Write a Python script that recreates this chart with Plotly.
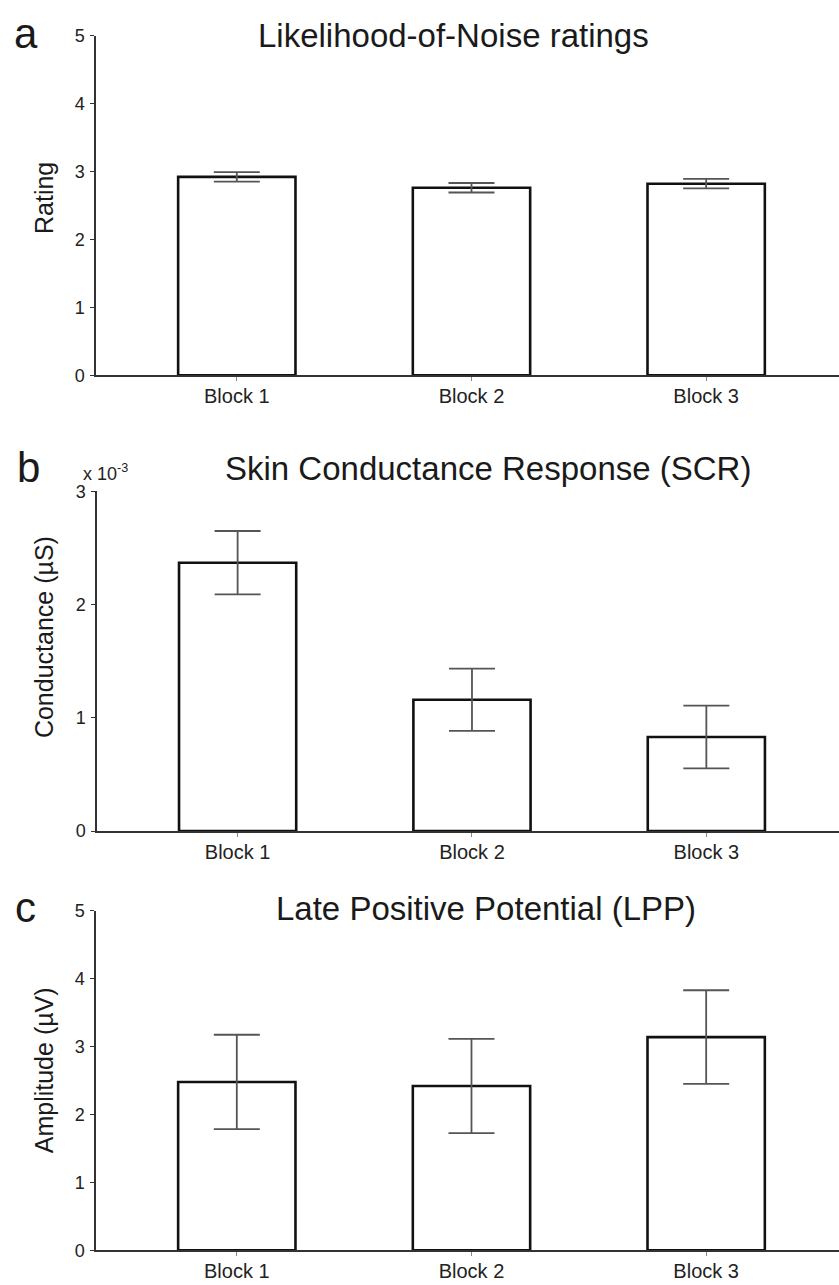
import plotly.graph_objects as go

# ---------------- data ----------------
blocks = ["Block 1", "Block 2", "Block 3"]

rating_mean = [2.92, 2.76, 2.82]
rating_se = [0.07, 0.07, 0.07]

scr_mean = [2.37, 1.16, 0.83]      # in units of 10^-3 µS
scr_se = [0.28, 0.275, 0.277]

lpp_mean = [2.48, 2.42, 3.14]
lpp_se = [0.695, 0.695, 0.69]

panel_titles = ["Likelihood-of-Noise ratings",
                "Skin Conductance Response (SCR)",
                "Late Positive Potential (LPP)"]
panel_letters = ["a", "b", "c"]
y_titles = ["Rating", "Conductance (µS)", "Amplitude (µV)"]
y_ticks = [[0, 1, 2, 3, 4, 5], [0, 1, 2, 3], [0, 1, 2, 3, 4, 5]]
y_ranges = [[0, 5], [0, 3], [0, 5]]

# ---------------- layout helpers ----------------
W, H = 839, 1285
FONT = "Liberation Sans, Arial, Helvetica, sans-serif"


def px(x):
    return x / W


def py(y):
    return 1 - y / H


# pixel geometry of the three panels (axis x, top y, bottom y)
panels = [(96, 26, 371), (97, 489, 834), (96, 915, 1260)]
title_pos = [(453, 26), (488, 466), (486, 913)]
letter_pos = [(26, 24), (28, 465), (25, 912)]
ytitle_pos = [(44, 191), (44, 637), (44, 1077)]

fig = go.Figure()
series = [(rating_mean, rating_se), (scr_mean, scr_se), (lpp_mean, lpp_se)]

for i, (m, se) in enumerate(series):
    sfx = "" if i == 0 else str(i + 1)
    fig.add_trace(go.Bar(
        x=blocks, y=m,
        width=0.5,
        marker=dict(color="white", line=dict(color="#111111", width=2.6)),
        error_y=dict(type="data", array=se, visible=True,
                     color="#555555", thickness=1.8, width=23),
        xaxis="x" + sfx, yaxis="y" + sfx,
        showlegend=False,
    ))

layout = dict(
    width=W, height=H,
    margin=dict(l=0, r=0, t=0, b=0),
    paper_bgcolor="white", plot_bgcolor="white",
    font=dict(family=FONT, color="#222222"),
    bargap=0.5,
)

annotations = []
for i in range(3):
    sfx = "" if i == 0 else str(i + 1)
    ax, top, bot = panels[i]
    layout["xaxis" + sfx] = dict(
        domain=[px(ax), 1],
        anchor="y" + sfx,
        type="category",
        range=[-0.6, 2.566],
        showline=True, linecolor="#333333", linewidth=2,
        ticks="outside", ticklen=4, tickcolor="#888888", tickwidth=1,
        tickfont=dict(size=20, color="#222222", family=FONT),
        ticklabelstandoff=-2,
        showgrid=False, zeroline=False, fixedrange=True,
    )
    layout["yaxis" + sfx] = dict(
        domain=[py(bot), py(top)],
        anchor="x" + sfx,
        range=y_ranges[i],
        tickvals=y_ticks[i],
        ticktext=[str(v) for v in y_ticks[i]],
        showline=True, linecolor="#333333", linewidth=1.5,
        ticks="outside", ticklen=4, tickcolor="#333333", tickwidth=1,
        tickfont=dict(size=18, color="#222222", family=FONT),
        ticklabelstandoff=2,
        showgrid=False, zeroline=False, fixedrange=True,
    )
    tx, ty = title_pos[i]
    annotations.append(dict(text=panel_titles[i], x=px(tx), y=py(ty),
                            xref="paper", yref="paper", showarrow=False,
                            xanchor="center", yanchor="middle",
                            font=dict(size=33, color="#1a1a1a", family=FONT)))
    lx, ly = letter_pos[i]
    annotations.append(dict(text=panel_letters[i], x=px(lx), y=py(ly),
                            xref="paper", yref="paper", showarrow=False,
                            xanchor="center", yanchor="middle",
                            font=dict(size=42, color="#1a1a1a", family=FONT)))
    yx, yy = ytitle_pos[i]
    annotations.append(dict(text=y_titles[i], x=px(yx), y=py(yy),
                            xref="paper", yref="paper", showarrow=False,
                            textangle=-90,
                            xanchor="center", yanchor="middle",
                            font=dict(size=25, color="#1a1a1a", family=FONT)))

annotations.append(dict(text="x 10<sup>-3</sup>", x=px(81), y=py(470),
                        xref="paper", yref="paper", showarrow=False,
                        xanchor="left", yanchor="middle",
                        font=dict(size=18, color="#222222", family=FONT)))

layout["annotations"] = annotations
fig.update_layout(**layout)

fig.write_html("out.html")
